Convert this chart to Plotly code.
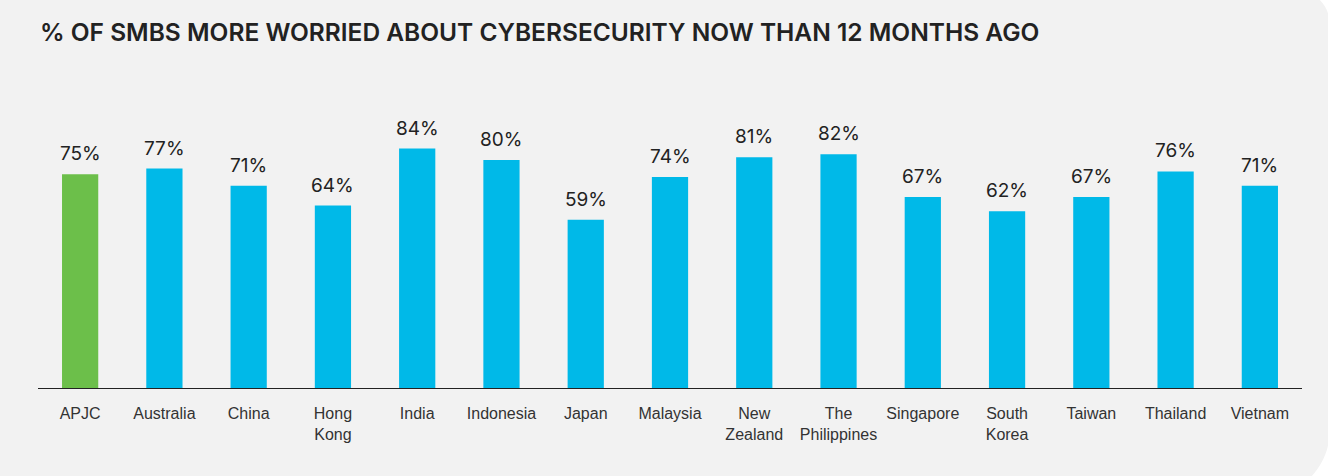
import plotly.graph_objects as go

categories = ["APJC", "Australia", "China", "Hong<br>Kong", "India", "Indonesia", "Japan",
              "Malaysia", "New<br>Zealand", "The<br>Philippines", "Singapore", "South<br>Korea",
              "Taiwan", "Thailand", "Vietnam"]
values = [75, 77, 71, 64, 84, 80, 59, 74, 81, 82, 67, 62, 67, 76, 71]
labels = [f"{v}%" for v in values]
colors = ["#6cbf4a"] + ["#00b9e8"] * (len(values) - 1)

W, H = 1328, 476
L, R, T, B = 38, 26, 103, 88
pw, ph = W - L - R, H - T - B

def px(x):
    return (x - L) / pw

def py(y):
    return 1 - (y - T) / ph

fig = go.Figure()
fig.add_trace(go.Bar(
    x=categories, y=values, marker=dict(color=colors, line=dict(width=0)),
    hoverinfo="skip",
))
for c, v, t in zip(categories, values, labels):
    fig.add_annotation(x=c, y=v, text=t, showarrow=False, yanchor="bottom", yshift=7,
                       font=dict(family="Inter, sans-serif", size=19, color="#222222"))

# rounded panel background (right corners rounded)
k = 0.5523
X0, X1, Y0, Y1 = -10, 1330, -11, 499
r1, r2 = 36, 70
path = (f"M {px(X0)},{py(Y0)} L {px(X1 - r1)},{py(Y0)} "
        f"C {px(X1 - r1 + k * r1)},{py(Y0)} {px(X1)},{py(Y0 + r1 - k * r1)} {px(X1)},{py(Y0 + r1)} "
        f"L {px(X1)},{py(Y1 - r2)} "
        f"C {px(X1)},{py(Y1 - r2 + k * r2)} {px(X1 - r2 + k * r2)},{py(Y1)} {px(X1 - r2)},{py(Y1)} "
        f"L {px(X0)},{py(Y1)} Z")

fig.update_layout(
    width=W, height=H,
    margin=dict(l=L, r=R, t=T, b=B, pad=0),
    paper_bgcolor="#ffffff", plot_bgcolor="rgba(0,0,0,0)",
    bargap=0.57, showlegend=False,
    shapes=[dict(type="path", path=path, xref="paper", yref="paper",
                 fillcolor="#f2f2f2", line=dict(width=0), layer="below")],
    title=dict(text="% OF SMBS MORE WORRIED ABOUT CYBERSECURITY NOW THAN 12 MONTHS AGO",
               x=40 / W, xanchor="left", y=1 - 32 / H, yanchor="middle",
               font=dict(family="Inter, sans-serif", size=24.5, color="#222222",
                         weight=600)),
    xaxis=dict(showline=True, linecolor="#222222", linewidth=1.3, ticks="",
               tickfont=dict(family="Liberation Sans, Arial, sans-serif", size=16, color="#333333"),
               ticklabelstandoff=11, showgrid=False, zeroline=False, fixedrange=True),
    yaxis=dict(range=[0, 100], visible=False, showgrid=False, zeroline=False, fixedrange=True),
)

fig.write_html("out.html", config={"displayModeBar": False},
               post_script="document.body.style.margin='0';")
